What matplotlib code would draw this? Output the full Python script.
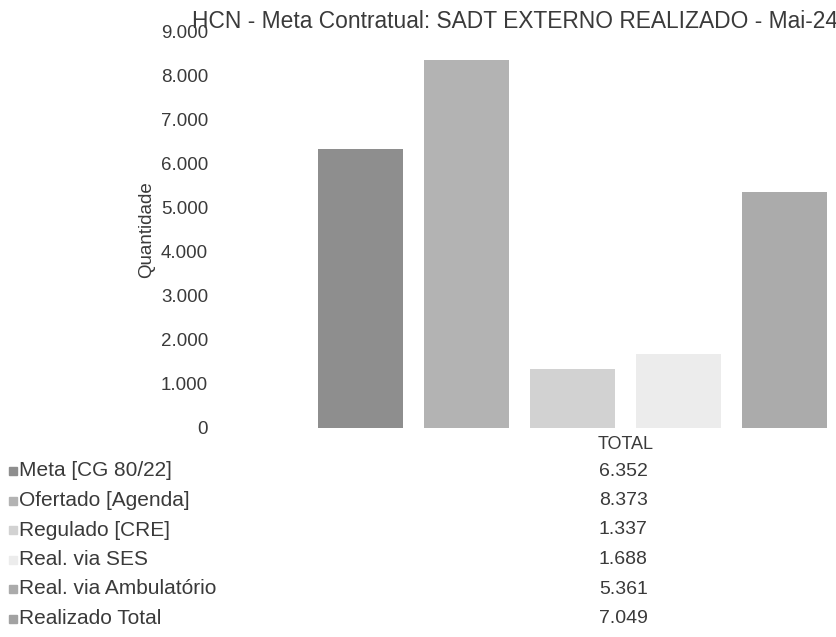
import matplotlib
matplotlib.use("Agg")
import matplotlib.pyplot as plt
import matplotlib.patches as mpatch
import matplotlib.transforms as mtrans

series = ["Meta [CG 80/22]", "Ofertado [Agenda]", "Regulado [CRE]",
          "Real. via SES", "Real. via Ambulatório", "Realizado Total"]
values = [6352, 8373, 1337, 1688, 5361, 7049]
value_labels = ["6.352", "8.373", "1.337", "1.688", "5.361", "7.049"]
category = "TOTAL"
y_ticks = [0, 1000, 2000, 3000, 4000, 5000, 6000, 7000, 8000, 9000]
y_tick_labels = ["0", "1.000", "2.000", "3.000", "4.000", "5.000",
                 "6.000", "7.000", "8.000", "9.000"]

colors = ["#8e8e8e", "#b3b3b3", "#d2d2d2", "#ececec", "#ababab", "#a2a2a2"]
text_color = "#3a3a3a"

plt.rcParams['font.family'] = ['Liberation Sans', 'DejaVu Sans']

W, H = 837, 637
fig = plt.figure(figsize=(W / 100, H / 100), dpi=100)

# plot area in pixels; it runs past the right edge, like the cropped scan
left_px, right_px, top_px, bottom_px = 215, 1036, 32, 428
ax = fig.add_axes([left_px / W, 1 - bottom_px / H,
                   (right_px - left_px) / W, (bottom_px - top_px) / H])

x = list(range(len(values)))
ax.bar(x, values, width=0.8, color=colors, edgecolor='none')
ax.set_xlim(-1.37, 6.37)
ax.set_ylim(0, 9000)
ax.set_yticks(y_ticks)
ax.set_yticklabels(y_tick_labels, fontsize=13.5, color=text_color)
ax.set_xticks([2.5])
ax.set_xticklabels([category], fontsize=13, color=text_color)
ax.tick_params(length=0, pad=5)
ax.tick_params(axis='x', pad=6)
for s in ax.spines.values():
    s.set_visible(False)
ax.set_ylabel("Quantidade", fontsize=13.5, color=text_color, labelpad=4)

fig.text(192 / W, 1 - 21 / H,
         "HCN - Meta Contratual: SADT EXTERNO REALIZADO - Mai-24",
         fontsize=16.4, color=text_color, ha='left', va='center')

# data table below the chart
blend = mtrans.blended_transform_factory(ax.transData, fig.transFigure)
for i, (name, lab) in enumerate(zip(series, value_labels)):
    y = 1 - (471 + 29.5 * i) / H
    fig.patches.append(mpatch.Rectangle((9 / W, y - 4 / H), 8 / W, 8 / H,
                                        transform=fig.transFigure,
                                        color=colors[i], figure=fig))
    fig.text(19 / W, y, name, fontsize=15, color=text_color,
             ha='left', va='center')
    fig.text(2.48, y, lab, fontsize=14, color=text_color,
             ha='center', va='center', transform=blend)

fig.savefig("out.png", dpi=100)
